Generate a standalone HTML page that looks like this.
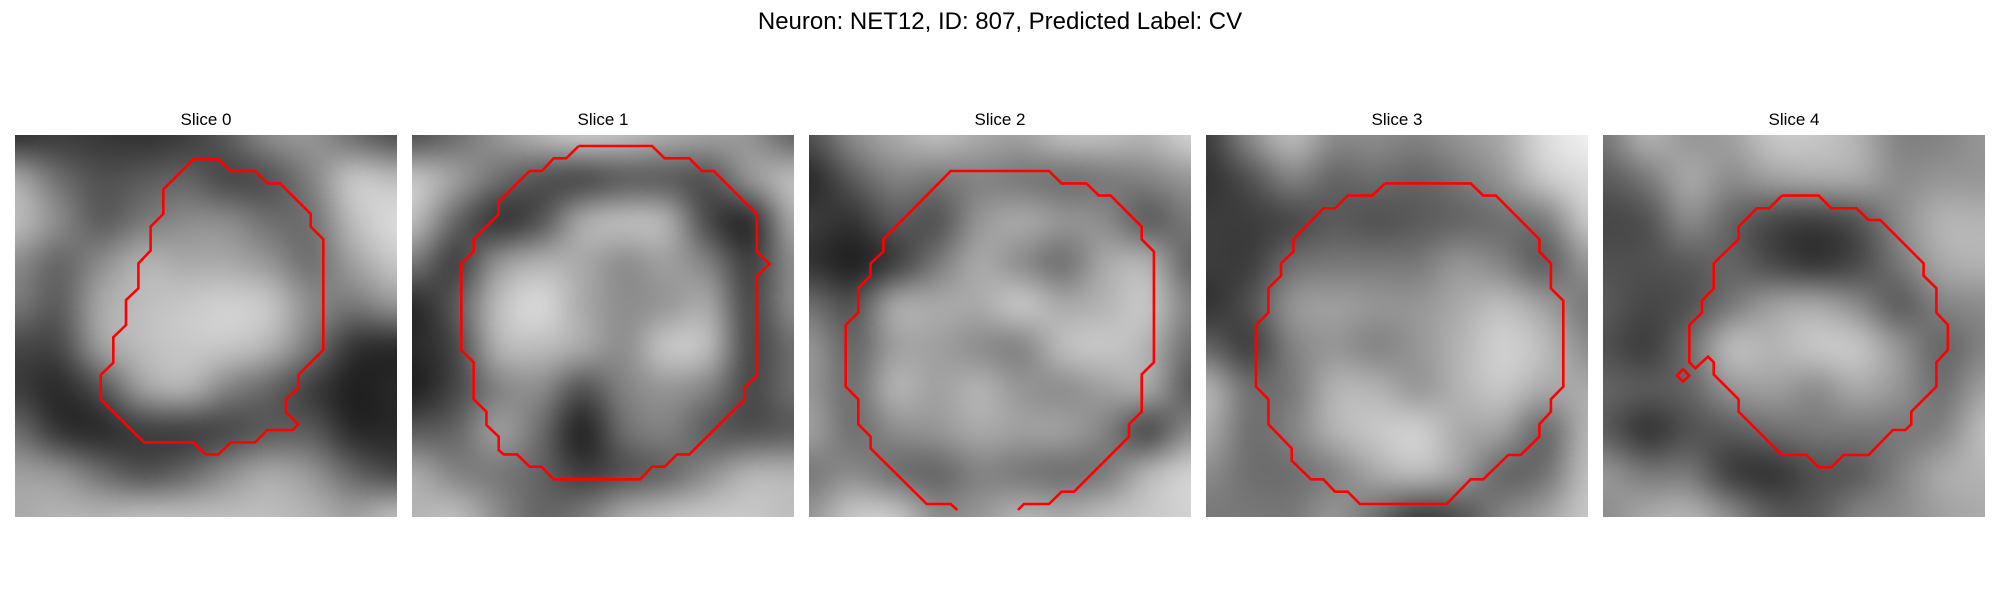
<!DOCTYPE html>
<html><head><meta charset="utf-8"><style>
body{margin:0;background:#fff;width:2000px;height:600px;position:relative;overflow:hidden;font-family:"Liberation Sans","DejaVu Sans",sans-serif}
.t{position:absolute;text-align:center;color:#000}
canvas,svg.c{position:absolute}
</style></head><body>
<div class="t" style="left:0;width:2000px;top:8px;font-size:24px">Neuron: NET12, ID: 807, Predicted Label: CV</div>
<div id="root"></div>
<script>
const panelX=[15,412,809,1206,1603];
const panelY=135, panelW=382, gridN=30;
const sliceTitles=["Slice 0","Slice 1","Slice 2","Slice 3","Slice 4"];
const gray0=[[50,60,55,50,60,90,140,150,110,80],[170,110,80,90,100,70,80,130,200,190],[190,140,90,120,140,140,110,110,190,220],[140,100,140,180,170,170,150,110,160,200],[120,90,170,190,200,210,200,140,120,150],[70,70,160,190,200,200,180,120,50,40],[60,40,80,160,180,130,100,60,30,40],[110,50,40,60,60,70,90,90,40,40],[160,150,110,80,100,140,170,150,100,70],[170,180,180,190,190,190,190,180,160,190]];
const gray1=[[80,110,150,180,200,190,170,160,150,100],[200,160,110,80,70,90,90,80,150,190],[190,100,50,80,170,190,180,70,40,170],[120,60,150,180,170,140,160,130,60,140],[40,90,190,220,170,140,150,170,70,140],[40,70,180,190,170,140,200,190,70,110],[30,70,130,140,80,130,150,130,70,110],[90,100,160,110,30,110,130,90,80,90],[170,130,120,100,60,80,100,140,180,180],[180,190,140,100,120,170,190,200,200,190]];
const gray2=[[80,140,170,190,170,160,190,190,180,210],[40,90,130,120,130,120,110,120,130,150],[60,50,90,80,150,170,150,140,90,120],[50,30,60,120,170,140,110,170,180,100],[110,80,170,170,170,200,170,180,200,130],[150,100,160,160,140,130,190,200,180,110],[150,110,180,160,180,150,140,160,170,90],[160,110,140,150,170,160,160,130,70,140],[120,140,110,100,130,120,110,120,180,210],[150,200,200,140,150,180,170,190,200,210]];
const gray3=[[60,140,190,140,140,130,150,170,220,240],[50,80,130,100,110,100,120,150,200,220],[60,60,70,90,80,90,100,110,120,200],[60,60,110,120,120,120,150,130,90,150],[50,80,150,160,150,150,170,190,160,120],[100,60,130,150,130,150,180,210,190,140],[180,110,120,180,180,150,180,200,170,170],[170,110,130,180,200,210,170,160,100,180],[140,110,110,130,170,190,160,100,110,190],[120,120,120,150,110,60,80,130,160,200]];
const gray4=[[120,180,150,160,200,200,180,130,130,150],[90,120,170,140,160,170,170,140,150,150],[70,80,140,100,70,60,80,140,180,180],[80,80,90,100,70,50,70,120,170,180],[90,70,80,120,160,170,140,90,130,140],[80,60,110,190,180,200,200,150,100,130],[100,90,100,150,160,140,170,150,110,160],[90,50,80,90,110,120,120,120,130,190],[150,120,120,60,50,80,90,130,170,180],[140,170,180,140,90,90,130,140,160,170]];
const contour0X=[14.0,15.97,16.94,18.85,19.82,20.81,23.22,23.22,24.21,24.21,22.25,22.25,21.28,21.28,22.25,21.81,19.82,18.85,16.94,15.97,15.0,14.0,10.13,6.73,6.73,7.72,7.72,8.72,8.72,9.69,9.69,10.65,10.65,11.65,11.65,14.0];
const contour0Y=[1.91,1.91,2.83,2.83,3.80,3.80,6.20,7.20,8.19,16.88,18.85,19.82,20.76,21.81,22.70,23.17,23.17,24.14,24.14,25.08,25.08,24.14,24.14,20.76,18.85,17.88,15.89,14.92,12.96,12.04,10.08,9.08,7.20,6.20,4.27,1.91];
const contour1X=[13.09,18.85,19.84,21.78,22.77,23.69,27.09,27.09,28.09,27.09,27.09,26.13,26.13,21.78,20.81,19.84,18.85,17.93,11.13,10.16,9.24,8.25,7.20,6.81,6.81,5.84,5.84,4.84,4.84,3.87,3.87,4.84,4.84,6.81,6.81,9.24,10.21,11.13,12.12,13.09];
const contour1Y=[0.86,0.86,1.83,1.83,2.83,2.83,6.23,9.16,10.13,11.05,18.90,19.84,20.76,25.08,25.08,26.05,26.05,27.04,27.04,26.05,26.05,25.08,25.08,24.74,23.69,22.77,21.73,20.76,17.85,16.88,10.08,9.16,8.19,6.23,5.24,2.83,2.83,1.83,1.83,0.86];
const contour2X=[11.65,11.13,9.24,4.84,4.84,3.87,3.87,2.88,2.88,3.87,3.87,4.84,4.84,5.84,5.84,11.13,18.85,19.84,21.78,22.77,23.69,26.13,26.13,27.09,27.09,26.13,26.13,25.13,25.13,20.81,19.84,18.85,16.88,16.41];
const contour2Y=[29.45,28.98,28.98,24.61,23.69,22.72,20.76,19.76,14.92,13.95,12.04,11.05,10.08,9.16,8.19,2.83,2.83,3.80,3.80,4.76,4.76,7.20,8.19,9.16,17.85,18.80,21.73,22.72,23.69,28.01,28.01,28.98,28.98,29.45];
const contour3X=[14.06,20.79,21.78,22.77,26.18,26.18,27.09,27.09,28.06,28.06,27.09,27.09,26.18,26.18,24.71,23.74,21.78,20.79,18.90,12.09,11.13,10.13,9.21,8.25,6.73,6.73,4.90,4.90,3.93,3.93,4.90,4.90,5.89,5.89,6.86,6.86,9.21,10.13,11.13,13.06,14.06];
const contour3Y=[3.80,3.80,4.76,4.76,8.19,9.16,10.08,12.04,13.01,19.76,20.76,21.73,22.72,23.69,25.13,25.13,27.04,27.04,28.98,28.98,28.01,28.01,27.04,27.04,25.58,24.61,22.72,20.76,19.76,14.92,13.95,12.04,11.05,10.08,9.16,8.19,5.76,5.76,4.76,4.76,3.80];
const contour4X=[14.06,16.94,17.93,19.90,20.86,21.78,25.18,25.18,26.18,26.18,27.09,27.09,26.18,26.18,24.21,24.21,23.74,22.77,20.86,18.90,17.93,16.94,15.97,14.06,10.65,10.65,8.69,8.69,8.25,7.25,6.78,6.78,7.77,7.77,8.69,8.69,10.65,10.65,12.09,13.06,14.06];
const contour4Y=[4.76,4.76,5.76,5.76,6.68,6.68,10.08,11.05,12.04,13.95,14.92,16.88,17.85,19.76,21.73,22.72,23.17,23.17,25.13,25.13,26.10,26.10,25.13,25.13,21.73,20.76,18.80,17.85,17.41,18.32,17.85,14.92,13.95,13.01,12.04,10.08,8.19,7.20,5.76,5.76,4.76];
const island4X=[6.28,6.78,6.28,5.81,6.28];
const island4Y=[18.38,18.90,19.37,18.90,18.38];
const grays=[gray0,gray1,gray2,gray3,gray4];
const contoursX=[[contour0X],[contour1X],[contour2X],[contour3X],[contour4X,island4X]];
const contoursY=[[contour0Y],[contour1Y],[contour2Y],[contour3Y],[contour4Y,island4Y]];
const root=document.getElementById('root');
function sx(c){return c*panelW/gridN;}
function sy(c){return c*panelW/gridN;}
for(let p=0;p<5;p++){
  const t=document.createElement('div');
  t.className='t';
  
  
  t.style.cssText='left:'+panelX[p]+'px;width:'+panelW+'px;top:110px;font-size:17px';
  t.textContent=sliceTitles[p];
  root.appendChild(t);
  const g=grays[p], n=g.length;
  const off=document.createElement('canvas');off.width=n;off.height=n;
  const oc=off.getContext('2d');const im=oc.createImageData(n,n);
  for(let r=0;r<n;r++)for(let c=0;c<n;c++){const i=(r*n+c)*4;const v=g[r][c];im.data[i]=v;im.data[i+1]=v;im.data[i+2]=v;im.data[i+3]=255;}
  oc.putImageData(im,0,0);
  const cv=document.createElement('canvas');
  
  
  cv.width=panelW;cv.height=panelW;
  cv.style.left=panelX[p]+'px';cv.style.top=panelY+'px';
  const ctx=cv.getContext('2d');ctx.imageSmoothingEnabled=true;ctx.imageSmoothingQuality='high';
  const cs=panelW/n;
  ctx.drawImage(off,0,0,n,n,-cs/2,-cs/2,panelW+cs,panelW+cs);
  root.appendChild(cv);
  const ns='http://www.w3.org/2000/svg';
  const svg=document.createElementNS(ns,'svg');
  svg.setAttribute('class','c');
  svg.setAttribute('width',panelW);svg.setAttribute('height',panelW);
  svg.style.left=panelX[p]+'px';svg.style.top=panelY+'px';
  
  
  for(let k=0;k<contoursX[p].length;k++){
    const xs=contoursX[p][k], ys=contoursY[p][k];
    const pts=xs.map((x,i)=>sx(x).toFixed(1)+','+sy(ys[i]).toFixed(1)).join(' ');
    const pl=document.createElementNS(ns,'polyline');
    
    
    pl.setAttribute('points',pts);
    pl.setAttribute('fill','none');pl.setAttribute('stroke','#ff0000');pl.setAttribute('stroke-width','2.6');
    svg.appendChild(pl);
  }
  root.appendChild(svg);
}
</script>
</body></html>
